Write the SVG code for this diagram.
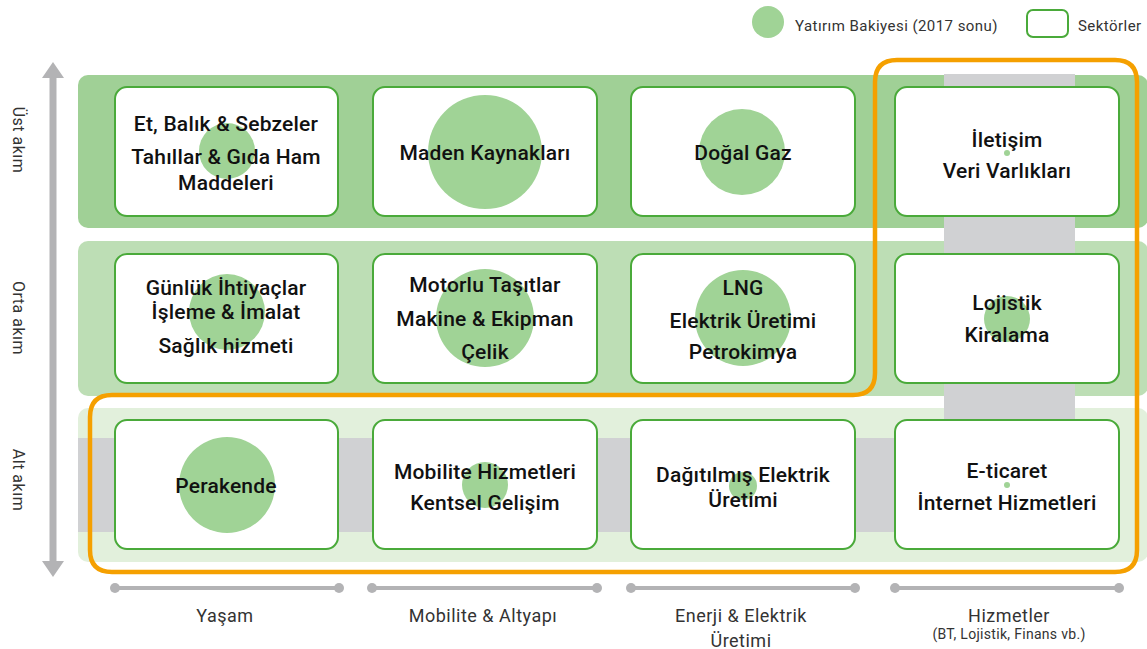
<svg xmlns="http://www.w3.org/2000/svg" width="1147" height="649" viewBox="0 0 1147 649">
<style>
.box{fill:#fff;stroke:#4aaa3a;stroke-width:2}
.bub{fill:#a0d396}
.t{font-family:Roboto,"Liberation Sans",sans-serif;font-weight:500;font-size:21px;letter-spacing:0.2px;fill:#111;text-anchor:middle}
.lab{font-family:Roboto,"Liberation Sans",sans-serif;font-size:18px;letter-spacing:0.5px;fill:#333;text-anchor:middle}
.small{font-size:14px;letter-spacing:0.3px}
.leg{font-family:Roboto,"Liberation Sans",sans-serif;font-size:15px;letter-spacing:0.45px;fill:#333}
.ax{stroke:#b3b3b5;stroke-width:4;fill:none}
.dot{fill:#b3b3b5}
</style>
<rect width="1147" height="649" fill="#fff"/>
<g id="bands">
<rect x="78" y="75" width="1070" height="153" rx="10" fill="#a0d096"/>
<rect x="78" y="241" width="1070" height="155" rx="10" fill="#bddeb5"/>
<rect x="78" y="408" width="1070" height="154" rx="10" fill="#e2f0dc"/>
<rect x="944" y="74" width="131" height="458" fill="#d0d1d3"/>
<rect x="78" y="438" width="997" height="94" fill="#d0d1d3"/>
</g>
<g id="legend">
<circle cx="768" cy="22" r="16" class="bub"/>
<text class="leg" x="795" y="31">Yatırım Bakiyesi (2017 sonu)</text>
<rect x="1027" y="10" width="41" height="27" rx="6" fill="#fff" stroke="#4aaa3a" stroke-width="2"/>
<text class="leg" x="1078" y="31">Sektörler</text>
</g>
<g id="axes">
<line x1="53" y1="74" x2="53" y2="564" stroke="#b3b3b5" stroke-width="7"/>
<polygon points="53,62 64,78 42,78" fill="#b3b3b5"/>
<polygon points="53,577 64,561 42,561" fill="#b3b3b5"/>
<text class="lab" transform="translate(13,140) rotate(90)" style="font-size:16px">Üst akım</text>
<text class="lab" transform="translate(13,318) rotate(90)" style="font-size:16px">Orta akım</text>
<text class="lab" transform="translate(13,480) rotate(90)" style="font-size:16px">Alt akım</text>
<g>
<line class="ax" x1="115" y1="588" x2="339" y2="588"/><circle class="dot" cx="115" cy="588" r="5"/><circle class="dot" cx="339" cy="588" r="5"/>
<line class="ax" x1="372" y1="588" x2="597" y2="588"/><circle class="dot" cx="372" cy="588" r="5"/><circle class="dot" cx="597" cy="588" r="5"/>
<line class="ax" x1="631" y1="588" x2="855" y2="588"/><circle class="dot" cx="631" cy="588" r="5"/><circle class="dot" cx="855" cy="588" r="5"/>
<line class="ax" x1="895" y1="588" x2="1119" y2="588"/><circle class="dot" cx="895" cy="588" r="5"/><circle class="dot" cx="1119" cy="588" r="5"/>
</g>
<text class="lab" x="225" y="622">Yaşam</text>
<text class="lab" x="483" y="622">Mobilite &amp; Altyapı</text>
<text class="lab" x="741" y="622">Enerji &amp; Elektrik</text>
<text class="lab" x="741" y="647">Üretimi</text>
<text class="lab" x="1009" y="622">Hizmetler</text>
<text class="lab small" x="1009" y="639">(BT, Lojistik, Finans vb.)</text>
</g>
<g id="connectors"/>
<g id="n-et"><rect class="box" x="115" y="87" width="223" height="129" rx="12"/><circle class="bub" cx="227" cy="151" r="28"/>
<text class="t" x="226" y="131">Et, Balık &amp; Sebzeler</text><text class="t" x="226" y="164">Tahıllar &amp; Gıda Ham</text><text class="t" x="226" y="190">Maddeleri</text></g>
<g id="n-maden"><rect class="box" x="373" y="87" width="224" height="129" rx="12"/><circle class="bub" cx="485" cy="152" r="57"/>
<text class="t" x="485" y="160">Maden Kaynakları</text></g>
<g id="n-gaz"><rect class="box" x="631" y="87" width="224" height="129" rx="12"/><circle class="bub" cx="742" cy="152" r="43"/>
<text class="t" x="743" y="160">Doğal Gaz</text></g>
<g id="n-iletisim"><rect class="box" x="895" y="87" width="224" height="129" rx="12"/><circle class="bub" cx="1007" cy="153" r="3"/>
<text class="t" x="1007" y="147">İletişim</text><text class="t" x="1007" y="178">Veri Varlıkları</text></g>
<g id="n-gunluk"><rect class="box" x="115" y="254" width="223" height="129" rx="12"/><circle class="bub" cx="227" cy="312" r="38"/>
<text class="t" x="226" y="295">Günlük İhtiyaçlar</text><text class="t" x="226" y="319">İşleme &amp; İmalat</text><text class="t" x="226" y="353">Sağlık hizmeti</text></g>
<g id="n-motorlu"><rect class="box" x="373" y="254" width="224" height="129" rx="12"/><circle class="bub" cx="485" cy="318" r="49"/>
<text class="t" x="485" y="292">Motorlu Taşıtlar</text><text class="t" x="485" y="326">Makine &amp; Ekipman</text><text class="t" x="485" y="359">Çelik</text></g>
<g id="n-lng"><rect class="box" x="631" y="254" width="224" height="129" rx="12"/><circle class="bub" cx="743" cy="318" r="48"/>
<text class="t" x="743" y="295">LNG</text><text class="t" x="743" y="328">Elektrik Üretimi</text><text class="t" x="743" y="359">Petrokimya</text></g>
<g id="n-lojistik"><rect class="box" x="895" y="254" width="224" height="129" rx="12"/><circle class="bub" cx="1007" cy="319" r="23"/>
<text class="t" x="1007" y="310">Lojistik</text><text class="t" x="1007" y="342">Kiralama</text></g>
<g id="n-perakende"><rect class="box" x="115" y="420" width="223" height="129" rx="12"/><circle class="bub" cx="227" cy="485" r="48"/>
<text class="t" x="226" y="493">Perakende</text></g>
<g id="n-mobilite"><rect class="box" x="373" y="420" width="224" height="129" rx="12"/><circle class="bub" cx="485" cy="485" r="23"/>
<text class="t" x="485" y="479">Mobilite Hizmetleri</text><text class="t" x="485" y="510">Kentsel Gelişim</text></g>
<g id="n-dagitilmis"><rect class="box" x="631" y="420" width="224" height="129" rx="12"/><circle class="bub" cx="743" cy="486" r="14"/>
<text class="t" x="743" y="482">Dağıtılmış Elektrik</text><text class="t" x="743" y="507">Üretimi</text></g>
<g id="n-eticaret"><rect class="box" x="895" y="420" width="224" height="129" rx="12"/><circle class="bub" cx="1007" cy="485" r="3"/>
<text class="t" x="1007" y="478">E-ticaret</text><text class="t" x="1007" y="510">İnternet Hizmetleri</text></g>
<g id="highlight">
<path d="M897 60 H1115 Q1137 60 1137 82 V550 Q1137 572 1115 572 H112 Q90 572 90 550 V417 Q90 395 112 395 H853 Q875 395 875 373 V82 Q875 60 897 60 Z" fill="none" stroke="#f5a000" stroke-width="4.5"/>
</g>
</svg>
